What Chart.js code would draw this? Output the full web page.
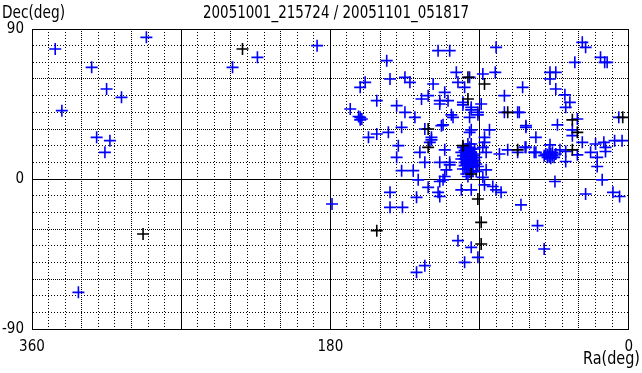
<!DOCTYPE html>
<html>
<head>
<meta charset="utf-8">
<script src="https://cdn.jsdelivr.net/npm/chart.js@4"></script>
<style>
  html, body { margin: 0; padding: 0; background: #fff; }
</style>
</head>
<body>
<canvas id="chart" width="642" height="373"></canvas>
<script>
// Sky map of detections, Ra reversed (360 -> 0), Dec -90..90
const titleText = '20051001_215724 / 20051101_051817';
const xTitle = 'Ra(deg)';
const yTitle = 'Dec(deg)';
const xTickLabels = [360, 180, 0];
const yTickLabels = [90, 0, -90];

const raBlue = [
  346, 291, 324, 315, 306, 342, 321, 313, 316, 332,
  224, 239, 188, 179,
  115, 108, 146, 104, 88, 96, 144, 135, 132, 159, 162, 118, 103, 99, 111, 121, 125, 152, 140, 114, 109, 100, 89,
  168, 162, 161, 163, 162, 135, 129, 107, 106, 95, 91, 96, 113, 137, 145, 152, 157, 123, 95, 87, 119, 120, 139,
  126, 111, 88, 140, 123, 114, 108, 137, 130, 111,
  114, 100, 95, 91, 112, 119, 96, 84, 75, 67, 62, 87, 86, 78, 73, 67, 62, 57, 110, 108, 91, 86, 97, 92,
  112, 114, 101, 95, 87, 82, 80, 77, 115, 114, 88,
  97, 96, 98, 95, 99, 94, 97, 98, 96, 100, 93, 97, 95, 99, 96, 98, 94, 101, 92, 93,
  100, 97, 95, 99, 96, 94, 98, 92, 100, 101, 95, 97, 96, 98, 94, 99, 93, 96, 97, 95,
  28, 32.5, 14.5, 13, 47.5, 44, 47.5, 64, 44, 38.5, 35.5, 38, 66, 31, 6, 62, 43, 34, 34, 56,
  8.5, 4, 28, 20, 15, 62.5, 47.5, 23, 14, 14, 38, 41.5, 56, 31, 38, 19, 19, 16, 44.5, 26, 9.5, 5.5,
  26, 17,
  46, 47, 48, 49, 50, 45, 47, 48, 46, 49, 44, 51,
  144, 136.5, 128, 103, 95, 99, 91, 128, 123, 55, 51, 65, 144, 127, 121,
  80, 80.5, 75
];
const decBlue = [
  78, 85, 67, 54, 49, 41, 25, 23, 16, -68,
  73, 67, 80, -15,
  77, 77, 71, 64, 63, 61, 60, 61, 58, 58, 55, 57, 58, 55, 52, 50, 48, 47, 44, 47, 47, 46, 45,
  42, 37, 36, 37.5, 35.5, 40, 37, 38.5, 37, 41.5, 38.5, 37, 32, 31, 28, 27, 25, 30, 29.5, 25, 25, 22, 20,
  16, 17.5, 19, 13, 10, 10, 10, 5, 5, 1.5,
  45, 44.5, 43, 40, 32.5, 23.5, 28, 29.5, 40, 40, 32, 22, 16, 15, 17.5, 16, 19, 16, 5.5, 8.5, 7.5, 5.5, 1.5, 4.5,
  -0.5, -1.5, -6.5, -6.5, -3.5, -4.5, -6.5, -8, -8, -10.5, 1,
  15, 14, 13, 16, 17, 12, 11, 18, 19, 14, 15, 9, 10, 10, 7, 6, 8, 12, 13, 18,
  19, 21, 21, 8, 4, 5, 3, 9, 6, 16, 13, 17, 16, 15, 14, 12, 11, 12, 13, 18,
  82, 70, 70, 70, 64, 64, 60, 55, 54, 50.5, 46, 43, 40, 36, 37, 31, 32.5, 29.5, 26, 25,
  23, 23, 22, 21, 22, 19, 20.5, 16, 19, 16.5, 16.5, 17.5, 16, 14.5, 10.5, 13, 7.5, -0.5, -1.5, -9, -8, -10.5,
  79, 73,
  14, 15, 13.5, 14.5, 15, 13, 12.5, 16, 16, 13, 15, 14,
  -17, -17, -11, -37, -41, -50, -47, -56, -52, -28, -42, -15.5, -8, -0.5, -5,
  79, 64, 50
];
const raBlack = [293, 233, 3.6, 34, 31, 34, 67, 97, 87, 73, 121, 97, 121, 152, 89, 89, 91, 95, 100];
const decBlack = [-33, 78, 37, 35.5, 28, 17.5, 17.5, 61, 57, 40, 30, 48, 19, -31, -39, -26, -12, 3, 20];

const toPoints = (ra, dec) => ra.map((r, i) => ({ x: r, y: dec[i] }));

const FONT = '"DejaVu Sans Condensed", "DejaVu Sans", sans-serif';

function gridDash(ctx) {
    const v = ctx.tick ? ctx.tick.value : undefined;
    if (v === undefined || v % 90 === 0) return [];
    if (v % 30 === 0) return [1, 1];
    return [1, 2];
}

// tall, narrow header text: squeeze horizontally to the wanted width
function narrowText(c, text, x, y, width, align) {
    const w = c.measureText(text).width;
    const sx = width / w;
    c.save();
    c.translate(x, y);
    c.scale(sx, 1);
    c.textAlign = align;
    c.fillText(text, 0, 0);
    c.restore();
}

const textPlugin = {
    id: 'textPlugin',
    afterDraw(chart) {
        const c = chart.ctx;
        c.save();
        c.fillStyle = '#000';
        c.font = '17px ' + FONT;
        c.textBaseline = 'alphabetic';
        narrowText(c, yTitle, 2, 18, 63, 'left');
        narrowText(c, titleText, 336, 18, 266, 'center');
        narrowText(c, xTitle, 640, 364, 57, 'right');
        c.restore();
    }
};

new Chart(document.getElementById('chart'), {
    type: 'scatter',
    data: {
        datasets: [
            {
                label: 'blue', data: toPoints(raBlue, decBlue),
                pointStyle: 'cross', pointRadius: 6, pointHoverRadius: 6,
                borderColor: '#0000ff', backgroundColor: '#0000ff', borderWidth: 1.6, order: 1
            },
            {
                label: 'black', data: toPoints(raBlack, decBlack),
                pointStyle: 'cross', pointRadius: 6, pointHoverRadius: 6,
                borderColor: '#000000', backgroundColor: '#000000', borderWidth: 1.6, order: 0
            }
        ]
    },
    options: {
        responsive: false, animation: false,
        layout: { padding: { top: 29, right: 11, left: 0, bottom: 0 } },
        plugins: { legend: { display: false }, tooltip: { enabled: false }, title: { display: false } },
        scales: {
            x: {
                type: 'linear', min: 0, max: 360, reverse: true,
                afterFit: s => { s.height = 44; },
                ticks: {
                    stepSize: 10, autoSkip: false, maxRotation: 0, padding: 9,
                    color: '#000', font: { family: FONT, size: 15 },
                    callback: v => xTickLabels.includes(v) ? String(v) : ''
                },
                grid: { color: '#000', lineWidth: 1, drawTicks: false },
                border: { display: true, color: '#000', width: 1, dash: gridDash }
            },
            y: {
                type: 'linear', min: -90, max: 90,
                afterFit: s => { s.width = 32; },
                ticks: {
                    stepSize: 10, autoSkip: false, padding: 8,
                    color: '#000', font: { family: FONT, size: 15 },
                    callback: v => yTickLabels.includes(v) ? String(v) : ''
                },
                grid: { color: '#000', lineWidth: 1, drawTicks: false },
                border: { display: true, color: '#000', width: 1, dash: gridDash }
            }
        }
    },
    plugins: [textPlugin]
});
</script>
</body>
</html>
